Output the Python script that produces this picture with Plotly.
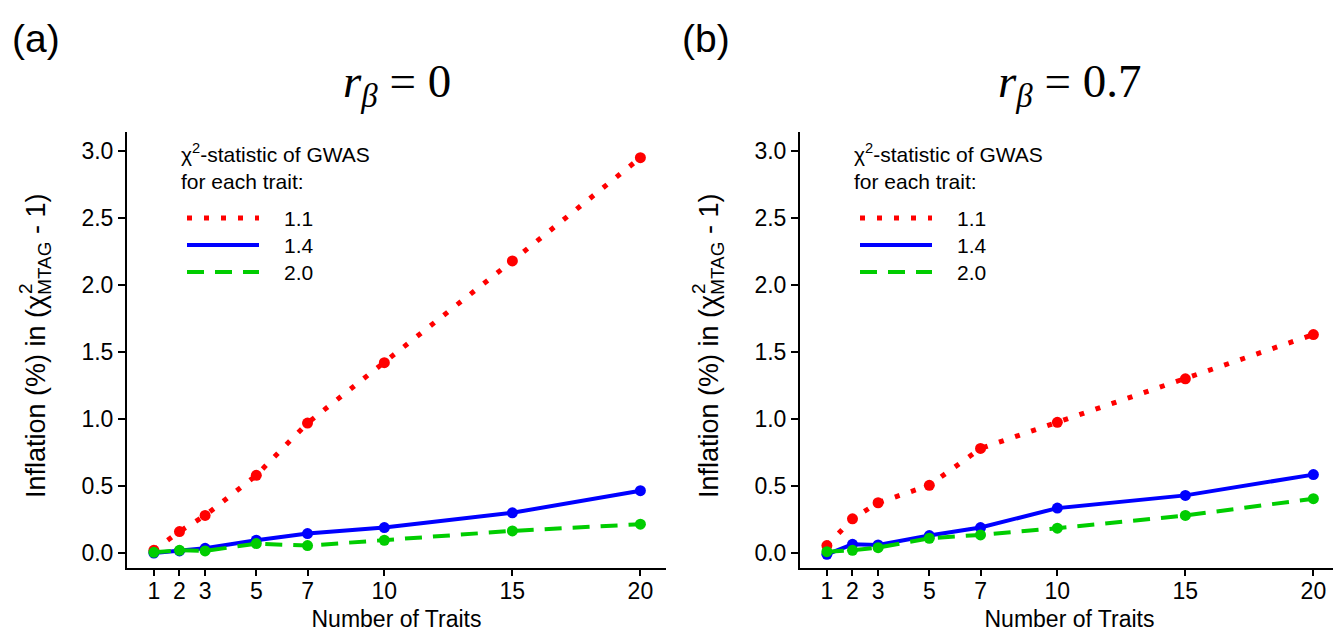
import plotly.graph_objects as go

# ---------------- data ----------------
traits = [1, 2, 3, 5, 7, 10, 15, 20]
series_names = ["1.1", "1.4", "2.0"]

# panel (a): r_beta = 0
a_chi11 = [0.02, 0.16, 0.28, 0.58, 0.97, 1.42, 2.18, 2.95]
a_chi14 = [0.00, 0.015, 0.035, 0.095, 0.145, 0.19, 0.30, 0.465]
a_chi20 = [0.005, 0.02, 0.015, 0.07, 0.055, 0.095, 0.165, 0.215]

# panel (b): r_beta = 0.7
b_chi11 = [0.055, 0.255, 0.375, 0.505, 0.78, 0.975, 1.30, 1.63]
b_chi14 = [-0.01, 0.065, 0.06, 0.13, 0.19, 0.335, 0.43, 0.585]
b_chi20 = [0.01, 0.02, 0.04, 0.11, 0.135, 0.185, 0.28, 0.405]

y_ticks = [0.0, 0.5, 1.0, 1.5, 2.0, 2.5, 3.0]
panel_titles = ["<i>r</i><sub><i>β</i></sub>&nbsp;=&nbsp;0", "<i>r</i><sub><i>β</i></sub>&nbsp;=&nbsp;0.7"]
panel_tags = ["(a)", "(b)"]
x_title = "Number of Traits"
y_title = "Inflation (%) in (χ<sub>MTAG</sub> - 1)"
y_title_sup = "2"
legend_title = "χ<sup>2</sup>-statistic of GWAS<br>for each trait:"

# ---------------- styles ----------------
W, H = 1341, 635
SANS = "Liberation Sans, Arial, sans-serif"
SERIF = "Liberation Serif, Times New Roman, serif"
RED, BLUE, GREEN = "#FF0000", "#0000FF", "#00CD00"
styles = [
    dict(color=RED, width=5, dash="5px,12px"),
    dict(color=BLUE, width=4, dash="solid"),
    dict(color=GREEN, width=4, dash="17px,11px"),
]


def fx(px):
    return px / W


def fy(py):
    return 1 - py / H


fig = go.Figure()

panels = [
    (a_chi11, a_chi14, a_chi20),
    (b_chi11, b_chi14, b_chi20),
]
for p, data in enumerate(panels):
    xa = "x" if p == 0 else "x2"
    ya = "y" if p == 0 else "y2"
    for s, vals in enumerate(data):
        st = styles[s]
        fig.add_trace(go.Scatter(
            x=traits, y=vals, mode="lines+markers",
            line=dict(color=st["color"], width=st["width"], dash=st["dash"]),
            marker=dict(color=st["color"], size=11),
            name=series_names[s], showlegend=False,
            xaxis=xa, yaxis=ya,
        ))

# axes
left_px = [119, 792]
plot_w = 539
top_px, bot_px = 124, 560
xcommon = dict(
    range=[-0.05, 21.0], tickvals=traits, ticktext=[str(t) for t in traits],
    showline=True, linecolor="black", linewidth=2, mirror=False,
    ticks="outside", ticklen=6, tickwidth=2, tickcolor="black",
    ticklabelstandoff=-5,
    showgrid=False, zeroline=False,
    tickfont=dict(family=SANS, size=23, color="black"),
    title=dict(text=x_title, font=dict(family=SANS, size=23, color="black"), standoff=8),
)
ycommon = dict(
    range=[-0.112, 3.142], tickvals=y_ticks, ticktext=[f"{v:.1f}" for v in y_ticks],
    showline=True, linecolor="black", linewidth=2,
    ticks="outside", ticklen=7, tickwidth=2, tickcolor="black",
    showgrid=False, zeroline=False,
    tickfont=dict(family=SANS, size=23, color="black"),
    domain=[fy(bot_px), fy(top_px)],
)
fig.update_layout(
    xaxis=dict(domain=[fx(left_px[0]), fx(left_px[0] + plot_w)], anchor="y", **xcommon),
    xaxis2=dict(domain=[fx(left_px[1]), fx(left_px[1] + plot_w)], anchor="y2", **xcommon),
    yaxis=dict(anchor="x", **ycommon),
    yaxis2=dict(anchor="x2", **ycommon),
)

annotations = []
shapes = []
tag_x = [2, 672]
for p in range(2):
    L = left_px[p]
    off = L - left_px[0]
    # panel tag
    annotations.append(dict(text=panel_tags[p], x=fx(tag_x[p]), y=fy(30),
                            xref="paper", yref="paper", xanchor="left", yanchor="middle",
                            showarrow=False, font=dict(family=SANS, size=39, color="black")))
    # title
    annotations.append(dict(text=panel_titles[p], x=fx(L + plot_w / 2), y=fy(76),
                            xref="paper", yref="paper", xanchor="center", yanchor="middle",
                            showarrow=False, font=dict(family=SERIF, size=47, color="black")))
    # y title (with stacked superscript drawn separately)
    ty = 338
    annotations.append(dict(text=y_title, x=fx(L - 89), y=fy(ty),
                            xref="paper", yref="paper", xanchor="center", yanchor="middle",
                            textangle=-90, showarrow=False,
                            font=dict(family=SANS, size=27, color="black")))
    annotations.append(dict(text=y_title_sup, x=fx(L - 101), y=fy(ty - 57),
                            xref="paper", yref="paper", xanchor="center", yanchor="middle",
                            textangle=-90, showarrow=False,
                            font=dict(family=SANS, size=19, color="black")))
    # legend title
    annotations.append(dict(text=legend_title, x=fx(171 + off), y=fy(130),
                            xref="paper", yref="paper", xanchor="left", yanchor="top",
                            align="left", showarrow=False,
                            font=dict(family=SANS, size=21, color="black")))
    for s in range(3):
        yy = [210, 237, 264][s]
        st = styles[s]
        shapes.append(dict(type="line", xref="paper", yref="paper",
                           x0=fx(179 + off), x1=fx(251 + off), y0=fy(yy), y1=fy(yy),
                           line=dict(color=st["color"], width=st["width"], dash=st["dash"])))
        annotations.append(dict(text=series_names[s], x=fx(274 + off), y=fy(yy),
                                xref="paper", yref="paper", xanchor="left", yanchor="middle",
                                showarrow=False, font=dict(family=SANS, size=21, color="black")))

fig.update_layout(
    width=W, height=H, margin=dict(l=0, r=0, t=0, b=0),
    paper_bgcolor="white", plot_bgcolor="white",
    annotations=annotations, shapes=shapes, showlegend=False,
)

fig.write_html("out.html")
